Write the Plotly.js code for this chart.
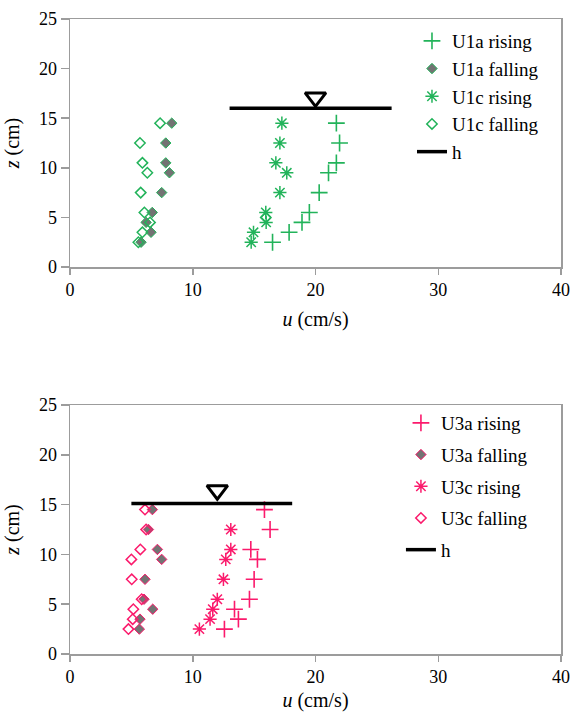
<!DOCTYPE html>
<html>
<head>
<meta charset="utf-8">
<script src="https://cdn.plot.ly/plotly-3.0.1.min.js"></script>
<style>html,body{margin:0;padding:0;background:#fff;}#chart{width:573px;height:717px;}</style>
</head>
<body>
<div id="chart"></div>
<script>
// ---- data (u in cm/s, z in cm) ----
const zLevels = [14.5, 12.5, 10.5, 9.5, 7.5, 5.5, 4.5, 3.5, 2.5];

// Top panel (U1)
const U1a_rising_u  = [21.7, 21.96, 21.7, 21.06, 20.3, 19.5, 18.9, 17.85, 16.5];
const U1a_rising_z  = zLevels;
const U1a_falling_u = [8.29, 7.8, 7.8, 8.1, 7.47, 6.7, 6.2, 6.6, 5.79];
const U1a_falling_z = zLevels;
const U1c_rising_u  = [17.26, 17.1, 16.77, 17.66, 17.1, 15.95, 15.98, 14.95, 14.76];
const U1c_rising_z  = zLevels;
const U1c_falling_u = [7.34, 5.7, 5.9, 6.3, 5.76, 6.06, 6.52, 5.9, 5.57, 15.95];
const U1c_falling_z = [14.5, 12.5, 10.5, 9.5, 7.5, 5.5, 4.5, 3.5, 2.5, 5.0];
const h1_u = [13.0, 26.2];
const h1_z = [16.0, 16.0];
const h1Mark_u = [20.0];
const h1Mark_z = [17.1];

// Bottom panel (U3)
const U3a_rising_u  = [15.84, 16.3, 14.73, 15.27, 15.0, 14.62, 13.4, 13.72, 12.58];
const U3a_rising_z  = zLevels;
const U3a_falling_u = [6.71, 6.39, 7.12, 7.47, 6.11, 6.03, 6.74, 5.7, 5.65];
const U3a_falling_z = zLevels;
const U3c_rising_u  = [13.1, 13.1, 12.69, 12.5, 12.0, 11.63, 11.41, 10.54];
const U3c_rising_z  = [12.5, 10.5, 9.5, 7.5, 5.5, 4.5, 3.5, 2.5];
const U3c_falling_u = [6.11, 6.2, 5.73, 5.0, 5.03, 5.84, 5.16, 5.11, 4.76];
const U3c_falling_z = zLevels;
const h3_u = [5.0, 18.1];
const h3_z = [15.1, 15.1];
const h3Mark_u = [12.0];
const h3Mark_z = [16.45];

const xTicks = [0, 10, 20, 30, 40];
const names1 = ['U1a rising', 'U1a falling', 'U1c rising', 'U1c falling', 'h'];
const names3 = ['U3a rising', 'U3a falling', 'U3c rising', 'U3c falling', 'h'];

// ---- styles ----
const FONT = 'Liberation Serif, Times New Roman, serif';
const GREEN = '#22b35a';
const PINK = '#fb1a6c';
const AXC = '#9c9c9c';
const FILLG = '#737373';

function series(xa, ya, leg, color, names, d) {
  const [ar_u, ar_z, af_u, af_z, cr_u, cr_z, cf_u, cf_z, h_u, h_z, hm_u, hm_z] = d;
  const base = {type: 'scatter', mode: 'markers', xaxis: xa, yaxis: ya, legend: leg, hoverinfo: 'x+y'};
  return [
    Object.assign({}, base, {name: names[0], legendgroup: leg + 'a', x: ar_u, y: ar_z,
      marker: {symbol: 'cross-thin-open', size: 12, color: color, line: {color: color, width: 1.6}}}),
    Object.assign({}, base, {name: names[1], legendgroup: leg + 'b', x: af_u, y: af_z,
      marker: {symbol: 'diamond', size: 8, color: FILLG, line: {color: color, width: 1}}}),
    Object.assign({}, base, {name: names[2], legendgroup: leg + 'c', x: cr_u, y: cr_z,
      marker: {symbol: 'asterisk-open', size: 11, color: color, line: {color: color, width: 1.5}}}),
    Object.assign({}, base, {name: names[3], legendgroup: leg + 'd', x: cf_u, y: cf_z,
      marker: {symbol: 'diamond-open', size: 8, color: color, line: {color: color, width: 1.5}}}),
    Object.assign({}, base, {name: names[4], legendgroup: leg + 'e', mode: 'lines', x: h_u, y: h_z,
      line: {color: '#000', width: 3.5}}),
    Object.assign({}, base, {name: 'h marker', legendgroup: leg + 'e', showlegend: false, x: hm_u, y: hm_z,
      marker: {symbol: 'triangle-down-open', size: 18, color: '#000', line: {color: '#000', width: 3}}})
  ];
}

const data = [].concat(
  series('x', 'y', 'legend', GREEN, names1,
    [U1a_rising_u, U1a_rising_z, U1a_falling_u, U1a_falling_z, U1c_rising_u, U1c_rising_z,
     U1c_falling_u, U1c_falling_z, h1_u, h1_z, h1Mark_u, h1Mark_z]),
  series('x2', 'y2', 'legend2', PINK, names3,
    [U3a_rising_u, U3a_rising_z, U3a_falling_u, U3a_falling_z, U3c_rising_u, U3c_rising_z,
     U3c_falling_u, U3c_falling_z, h3_u, h3_z, h3Mark_u, h3Mark_z])
);

function xAx(anchor, standoff) {
  return {
    anchor: anchor, domain: [0, 1], range: [0, 40], tickvals: xTicks, ticktext: xTicks.map(String),
    ticks: 'outside', ticklen: 6, tickwidth: 1.5, tickcolor: AXC,
    showline: true, linecolor: AXC, linewidth: 1.5, mirror: true,
    showgrid: false, zeroline: false, tickfont: {family: FONT, size: 18, color: '#000'},
    title: {text: '<i>u</i> (cm/s)', font: {family: FONT, size: 20, color: '#000'}, standoff: standoff}
  };
}
function yAx(anchor, domain) {
  return {
    anchor: anchor, domain: domain, range: [0, 25], tickvals: [0, 5, 10, 15, 20, 25],
    ticks: 'outside', ticklen: 8, tickwidth: 1.5, tickcolor: AXC,
    showline: true, linecolor: AXC, linewidth: 1.5, mirror: true,
    showgrid: false, zeroline: false, tickfont: {family: FONT, size: 18, color: '#000'},
    title: {text: '<i>z</i> (cm)', font: {family: FONT, size: 20, color: '#000'}, standoff: 14}
  };
}

const layout = {
  width: 573, height: 717,
  margin: {l: 70, r: 12, t: 19, b: 63, pad: 0},
  paper_bgcolor: '#fff', plot_bgcolor: '#fff',
  font: {family: FONT, size: 18, color: '#000'},
  showlegend: true,
  xaxis: xAx('y', 13),
  yaxis: yAx('x', [0.6094, 1]),
  xaxis2: xAx('y2', 7),
  yaxis2: yAx('x2', [0, 0.3921]),
  legend: {x: 0.6965, y: 0.9953, xanchor: 'left', yanchor: 'top', bgcolor: 'rgba(0,0,0,0)',
    borderwidth: 0, font: {family: FONT, size: 19, color: '#000'}, traceorder: 'grouped', tracegroupgap: 0},
  legend2: {x: 0.674, y: 0.3937, xanchor: 'left', yanchor: 'top', bgcolor: 'rgba(0,0,0,0)',
    borderwidth: 0, font: {family: FONT, size: 19, color: '#000'}, traceorder: 'grouped', tracegroupgap: 4}
};

Plotly.newPlot('chart', data, layout, {staticPlot: true, displayModeBar: false});
</script>
</body>
</html>
